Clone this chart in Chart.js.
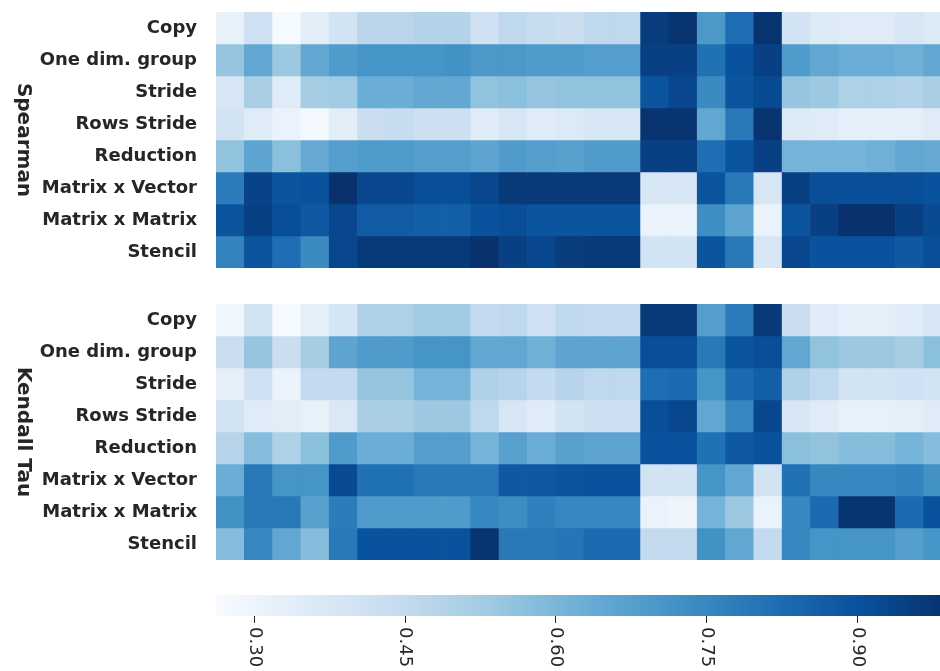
<!DOCTYPE html>
<html>
<head>
<meta charset="utf-8">
<script src="https://cdn.jsdelivr.net/npm/chart.js@4.4.1/dist/chart.umd.min.js"></script>
<style>
  html, body { margin: 0; padding: 0; background: #fff; }
  body { width: 940px; height: 671px; overflow: hidden; position: relative; }
  canvas { position: absolute; left: 0; }
</style>
</head>
<body>
<canvas id="spearman" width="960" height="280" style="top:0px"></canvas>
<canvas id="kendall" width="960" height="280" style="top:292px"></canvas>
<canvas id="colorbar" width="960" height="88" style="top:583px"></canvas>
<script>
// Benchmark kernels (rows) and measured configurations (columns)
const rowLabels = ['Copy', 'One dim. group', 'Stride', 'Rows Stride', 'Reduction',
                   'Matrix x Vector', 'Matrix x Matrix', 'Stencil'];
const configs = ['1','2','3','4','5','6','7','8','9','10','11','12','13',
                 '14','15','16','17','18','19','20','21','22','23','24','25','26'];

// Spearman rank correlation, one array per kernel
const spCopy       = [0.32,0.41,0.27,0.34,0.40,0.47,0.47,0.49,0.49,0.41,0.46,0.44,0.43,0.46,0.46,0.96,0.98,0.70,0.82,0.98,0.40,0.36,0.35,0.35,0.38,0.36];
const spOneDim     = [0.55,0.65,0.54,0.65,0.69,0.71,0.71,0.71,0.72,0.70,0.70,0.69,0.69,0.68,0.68,0.95,0.95,0.81,0.90,0.95,0.69,0.65,0.63,0.63,0.62,0.65];
const spStride     = [0.38,0.51,0.35,0.52,0.53,0.63,0.63,0.65,0.65,0.56,0.57,0.55,0.56,0.56,0.56,0.89,0.93,0.74,0.89,0.92,0.55,0.54,0.50,0.50,0.49,0.51];
const spRowsStride = [0.40,0.35,0.31,0.28,0.34,0.43,0.44,0.42,0.42,0.35,0.38,0.35,0.36,0.38,0.38,0.98,0.98,0.65,0.79,0.98,0.36,0.35,0.33,0.33,0.33,0.35];
const spReduction  = [0.56,0.66,0.57,0.64,0.68,0.69,0.69,0.68,0.68,0.66,0.69,0.68,0.67,0.69,0.69,0.95,0.95,0.82,0.89,0.95,0.61,0.61,0.61,0.62,0.65,0.64];
const spMatVec     = [0.78,0.94,0.89,0.90,0.99,0.93,0.93,0.91,0.91,0.93,0.97,0.97,0.97,0.97,0.97,0.38,0.38,0.89,0.79,0.38,0.95,0.91,0.91,0.91,0.91,0.90];
const spMatMat     = [0.89,0.95,0.91,0.88,0.93,0.87,0.87,0.86,0.86,0.90,0.91,0.89,0.89,0.89,0.89,0.31,0.31,0.73,0.66,0.31,0.89,0.95,0.99,0.99,0.95,0.92];
const spStencil    = [0.76,0.89,0.82,0.74,0.93,0.97,0.97,0.97,0.97,0.99,0.95,0.93,0.96,0.97,0.97,0.40,0.40,0.89,0.79,0.38,0.93,0.90,0.90,0.90,0.88,0.91];

// Kendall tau correlation, one array per kernel
const ktCopy       = [0.29,0.40,0.27,0.33,0.39,0.50,0.50,0.53,0.53,0.45,0.46,0.41,0.46,0.45,0.45,0.97,0.97,0.68,0.78,0.97,0.43,0.35,0.33,0.33,0.35,0.38];
const ktOneDim     = [0.43,0.55,0.43,0.52,0.66,0.69,0.69,0.71,0.71,0.65,0.65,0.62,0.66,0.66,0.66,0.91,0.91,0.79,0.89,0.91,0.65,0.56,0.54,0.54,0.52,0.57];
const ktStride     = [0.33,0.41,0.31,0.45,0.45,0.55,0.55,0.61,0.61,0.50,0.48,0.45,0.48,0.46,0.46,0.82,0.83,0.71,0.83,0.86,0.50,0.46,0.40,0.40,0.41,0.40];
const ktRowsStride = [0.40,0.35,0.34,0.32,0.37,0.51,0.51,0.54,0.54,0.46,0.38,0.35,0.40,0.42,0.42,0.91,0.93,0.65,0.75,0.93,0.38,0.35,0.32,0.32,0.33,0.35];
const ktReduction  = [0.48,0.58,0.50,0.57,0.69,0.63,0.63,0.68,0.68,0.61,0.67,0.63,0.67,0.66,0.66,0.90,0.90,0.81,0.88,0.90,0.57,0.56,0.58,0.58,0.61,0.58];
const ktMatVec     = [0.63,0.79,0.71,0.71,0.92,0.81,0.81,0.79,0.79,0.79,0.88,0.88,0.89,0.90,0.90,0.40,0.40,0.71,0.65,0.40,0.81,0.75,0.75,0.75,0.76,0.72];
const ktMatMat     = [0.72,0.79,0.79,0.67,0.78,0.69,0.69,0.69,0.69,0.75,0.73,0.77,0.75,0.75,0.75,0.31,0.30,0.61,0.54,0.31,0.75,0.83,0.98,0.98,0.83,0.90];
const ktStencil    = [0.58,0.75,0.65,0.58,0.79,0.90,0.90,0.90,0.90,0.98,0.79,0.79,0.80,0.83,0.83,0.45,0.45,0.72,0.65,0.45,0.75,0.71,0.71,0.71,0.68,0.71];

// Colour scale range and colorbar ticks
const vMin = 0.262, vMax = 0.994;
const colorbarTicks = [0.30, 0.45, 0.60, 0.75, 0.90];

// "Blues" sequential palette
const bluesStops = ['#f7fbff','#deebf7','#c6dbef','#9ecae1','#6baed6','#4292c6','#2171b5','#08519c','#08306b'];
const bluesRgb = bluesStops.map(h => [1, 3, 5].map(i => parseInt(h.slice(i, i + 2), 16)));

function blues(v) {
  let t = (v - vMin) / (vMax - vMin);
  t = Math.max(0, Math.min(1, t));
  const pos = t * (bluesRgb.length - 1);
  const i = Math.min(Math.floor(pos), bluesRgb.length - 2);
  const f = pos - i;
  const a = bluesRgb[i], b = bluesRgb[i + 1];
  const c = a.map((ch, k) => Math.round(ch + (b[k] - ch) * f));
  return `rgb(${c[0]},${c[1]},${c[2]})`;
}

const textColor = '#262626';

// Rotated group title at the left edge of each heatmap panel
const panelTitle = {
  id: 'panelTitle',
  afterDraw(chart, args, opts) {
    const { ctx, chartArea } = chart;
    ctx.save();
    ctx.translate(17.5, (chartArea.top + chartArea.bottom) / 2);
    ctx.rotate(Math.PI / 2);
    ctx.font = 'bold 20px "DejaVu Sans"';
    ctx.fillStyle = textColor;
    ctx.textAlign = 'center';
    ctx.textBaseline = 'alphabetic';
    ctx.fillText(opts.text, 0, 0);
    ctx.restore();
  }
};

function heatmap(canvasId, title, rows) {
  const datasets = rows.map((vals, r) => ({
    label: rowLabels[r],
    data: vals.map((v, c) => ({ x: [c, c + 1], y: rowLabels[r] })),
    backgroundColor: vals.map(v => blues(v)),
    borderWidth: 0,
    grouped: false,
    barPercentage: 1,
    categoryPercentage: 1
  }));
  return new Chart(document.getElementById(canvasId), {
    type: 'bar',
    data: { labels: rowLabels, datasets },
    options: {
      indexAxis: 'y',
      responsive: false,
      animation: false,
      layout: { padding: { top: 12, bottom: 12, left: 0, right: 8 } },
      plugins: {
        legend: { display: false },
        tooltip: { enabled: false },
        panelTitle: { text: title }
      },
      scales: {
        x: { type: 'linear', min: 0, max: configs.length, display: false },
        y: {
          type: 'category',
          grid: { display: false, drawTicks: false },
          border: { display: false },
          ticks: {
            autoSkip: false,
            padding: 19,
            color: textColor,
            font: { family: 'DejaVu Sans', size: 18, weight: 'bold' }
          },
          afterFit: s => { s.width = 216; s.paddingTop = 0; s.paddingBottom = 0; }
        }
      }
    },
    plugins: [panelTitle]
  });
}

heatmap('spearman', 'Spearman',
  [spCopy, spOneDim, spStride, spRowsStride, spReduction, spMatVec, spMatMat, spStencil]);
heatmap('kendall', 'Kendall Tau',
  [ktCopy, ktOneDim, ktStride, ktRowsStride, ktReduction, ktMatVec, ktMatMat, ktStencil]);

// Colorbar tick labels, rotated to read downwards
const colorbarLabels = {
  id: 'colorbarLabels',
  afterDraw(chart) {
    const { ctx } = chart;
    const x = chart.scales.x;
    ctx.save();
    ctx.font = '18px "DejaVu Sans"';
    ctx.fillStyle = textColor;
    ctx.textAlign = 'left';
    ctx.textBaseline = 'middle';
    colorbarTicks.forEach(v => {
      const px = x.getPixelForValue(v);
      ctx.save();
      ctx.translate(px, x.top + 11);
      ctx.rotate(Math.PI / 2);
      ctx.fillText(v.toFixed(2), 0, 0);
      ctx.restore();
    });
    ctx.restore();
  }
};

new Chart(document.getElementById('colorbar'), {
  type: 'bar',
  data: {
    labels: ['scale'],
    datasets: [{
      data: [[vMin, vMax]],
      backgroundColor: (c) => {
        const a = c.chart.chartArea;
        if (!a) return bluesStops[4];
        const g = c.chart.ctx.createLinearGradient(a.left, 0, a.right, 0);
        bluesStops.forEach((col, i) => g.addColorStop(i / (bluesStops.length - 1), col));
        return g;
      },
      borderWidth: 0,
      barPercentage: 1,
      categoryPercentage: 1
    }]
  },
  options: {
    indexAxis: 'y',
    responsive: false,
    animation: false,
    layout: { padding: { top: 12, left: 216, right: 8, bottom: 0 } },
    plugins: { legend: { display: false }, tooltip: { enabled: false } },
    scales: {
      y: { display: false },
      x: {
        type: 'linear',
        min: vMin,
        max: vMax,
        afterBuildTicks: s => { s.ticks = colorbarTicks.map(v => ({ value: v })); },
        grid: { display: true, drawOnChartArea: false, drawTicks: true, tickLength: 7, color: textColor, lineWidth: 1 },
        border: { display: false },
        ticks: { display: false },
        afterFit: s => { s.height = 55; }
      }
    }
  },
  plugins: [colorbarLabels]
});
</script>
</body>
</html>
